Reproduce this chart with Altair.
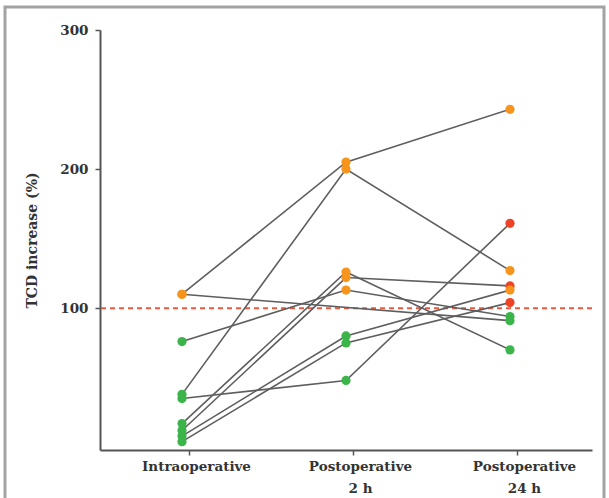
import altair as alt
import pandas as pd

# Time points and per-subject TCD increase (%); None = not measured
timepoints = ["Intraoperative", "Postoperative 2 h", "Postoperative 24 h"]
subjects = ["S1", "S2", "S3", "S4", "S5", "S6", "S7", "S8", "S9"]
intraop = [110, 110, 38, 76, 35, 17, 12, 8, 4]
postop_2h = [205, None, 200, 113, 48, 126, 122, 80, 75]
postop_24h = [243, 91, 127, 94, 161, 70, 116, 113, 104]

# Response class of each measurement (drives dot colour)
class_intra = ["mid", "mid", "low", "low", "low", "low", "low", "low", "low"]
class_2h = ["mid", None, "mid", "mid", "low", "mid", "mid", "low", "low"]
class_24h = ["mid", "low", "mid", "low", "high", "low", "high", "mid", "high"]

class_names = ["low", "mid", "high"]
class_colors = ["#3bb54a", "#f7941e", "#ee4425"]

rows = []
for i, s in enumerate(subjects):
    for t, vals, cls in zip(timepoints,
                            [intraop, postop_2h, postop_24h],
                            [class_intra, class_2h, class_24h]):
        if vals[i] is not None:
            rows.append({"subject": s, "time": t, "order": timepoints.index(t),
                         "value": vals[i], "cls": cls[i]})
df = pd.DataFrame(rows)

serif = "DejaVu Serif"

x_enc = alt.X("time:N", sort=timepoints,
              scale=alt.Scale(type="point", padding=0.5),
              axis=alt.Axis(title=None, labelAngle=0,
                            labelExpr="split(replace(datum.label, 'e ', 'e|'), '|')",
                            labelLineHeight=22, labelPadding=4, labelFontSize=13.5,
                            tickOffset=7, labelOffset=7))
y_enc = alt.Y("value:Q",
              scale=alt.Scale(domain=[-2, 300], nice=False, zero=False),
              axis=alt.Axis(values=[100, 200, 300], title="TCD increase (%)",
                            grid=False, labelPadding=7, labelFontSize=13.5,
                            titleFontSize=14, titlePadding=20))

base = alt.Chart(df)

lines = base.mark_line(color="#5e5e5e", strokeWidth=1.6).encode(
    x=x_enc, y=y_enc, detail="subject:N", order="order:Q")

points = base.mark_circle(size=85, opacity=1).encode(
    x=x_enc, y=y_enc,
    color=alt.Color("cls:N", scale=alt.Scale(domain=class_names, range=class_colors),
                    legend=None))

reference = alt.Chart(pd.DataFrame({"ref": [100]})).mark_rule(
    color="#ea5a3f", strokeDash=[5, 4], strokeWidth=2).encode(y="ref:Q")

frame = alt.Chart(pd.DataFrame({"f": [0]})).mark_rect(
    fillOpacity=0, stroke="#a3a3a3", strokeWidth=3).encode(
    x=alt.value(-95), x2=alt.value(504), y=alt.value(-23), y2=alt.value(480))

chart = alt.layer(frame, reference, lines, points).properties(
    width=492, height=420,
    padding={"left": 100, "top": 30, "right": 17, "bottom": 48},
    autosize=alt.AutoSizeParams(type="none"),
    background="white",
).configure_view(stroke=None).configure_axis(
    domainColor="#555555", domainWidth=2,
    tickColor="#555555", tickWidth=1.5, tickSize=5,
    labelFont=serif, labelFontWeight="bold", labelColor="#333333",
    titleFont=serif, titleFontWeight="bold", titleColor="#333333",
)

chart.save("out.html", embed_options={"renderer": "svg", "actions": False})
